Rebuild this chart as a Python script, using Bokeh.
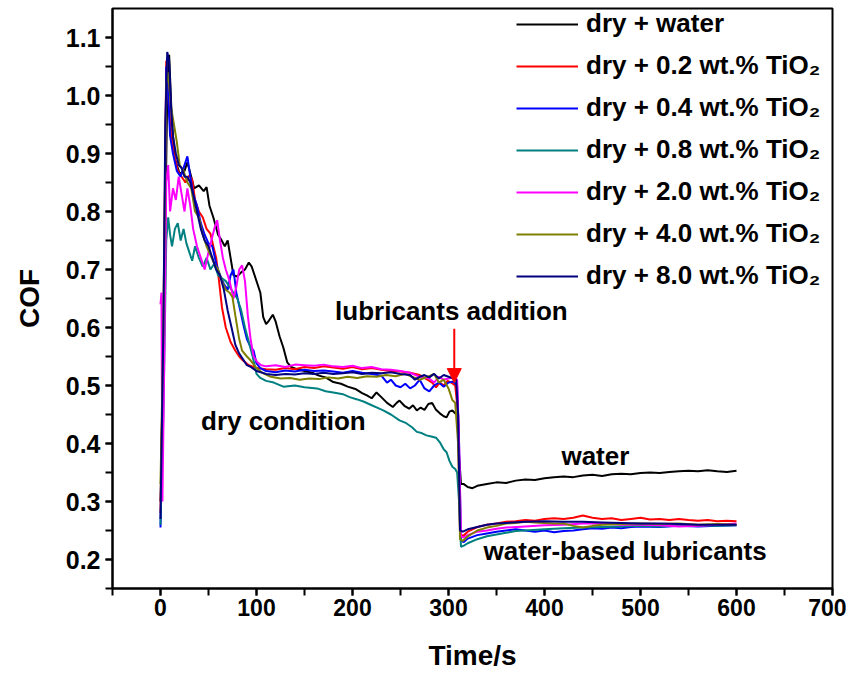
from bokeh.plotting import figure
from bokeh.models import (Legend, LegendItem, Label, Arrow, NormalHead,
                          SingleIntervalTicker, Range1d, NumeralTickFormatter)
from bokeh.embed import file_html
from bokeh.resources import INLINE

# ---------------- data ----------------
t_water = [0, 3, 7, 9, 12, 15, 20, 25, 28, 32, 35, 40, 45, 48, 51, 55, 60, 63, 67, 70, 73, 76, 80, 84, 88,
           92, 95, 98, 101, 104, 107, 110, 113, 117, 120, 124, 128, 132, 136, 142, 150, 158, 165, 172, 180,
           188, 195, 203, 210, 215, 220, 225, 230, 236, 242, 246, 249, 254, 259, 263, 267, 271, 275, 279,
           283, 287, 291, 295, 298, 301, 304, 307, 309, 311, 313, 316, 320, 325, 330, 340, 350, 360, 370,
           380, 390, 400, 410, 420, 430, 440, 450, 460, 470, 480, 490, 500, 510, 520, 530, 540, 550, 560,
           570, 580, 590, 600]
cof_water = [0.30, 0.55, 1.00, 1.07, 0.95, 0.89, 0.865, 0.87, 0.885, 0.86, 0.84, 0.845, 0.835, 0.842, 0.81,
             0.79, 0.76, 0.752, 0.74, 0.75, 0.72, 0.69, 0.688, 0.695, 0.70, 0.712, 0.705, 0.69, 0.675, 0.66,
             0.618, 0.606, 0.612, 0.622, 0.61, 0.585, 0.565, 0.54, 0.532, 0.528, 0.525, 0.522, 0.517, 0.514,
             0.506, 0.503, 0.498, 0.494, 0.487, 0.483, 0.478, 0.488, 0.48, 0.47, 0.463, 0.47, 0.474, 0.465,
             0.46, 0.466, 0.457, 0.462, 0.458, 0.468, 0.47, 0.458, 0.452, 0.447, 0.445, 0.455, 0.457, 0.452,
             0.45, 0.38, 0.33, 0.33, 0.325, 0.323, 0.327, 0.33, 0.333, 0.332, 0.336, 0.338, 0.337, 0.34,
             0.342, 0.343, 0.342, 0.345, 0.346, 0.344, 0.347, 0.348, 0.347, 0.349, 0.35, 0.349, 0.351,
             0.352, 0.353, 0.352, 0.354, 0.352, 0.351, 0.353]

t_02 = [0, 3, 6, 8, 11, 14, 18, 22, 26, 30, 33, 36, 40, 44, 48, 52, 55, 58, 61, 64, 68, 73, 78, 82, 86, 92,
        100, 110, 120, 130, 140, 150, 160, 170, 180, 190, 200, 210, 220, 230, 240, 250, 260, 270, 278, 283,
        287, 291, 295, 299, 303, 307, 310, 312, 315, 320, 330, 340, 350, 360, 370, 380, 390, 400, 410, 420,
        430, 440, 450, 460, 470, 480, 490, 500, 510, 520, 530, 540, 550, 560, 570, 580, 590, 600]
cof_02 = [0.28, 0.6, 1.06, 1.0, 0.93, 0.9, 0.87, 0.86, 0.85, 0.862, 0.855, 0.82, 0.80, 0.79, 0.77, 0.762, 0.74,
          0.72, 0.68, 0.635, 0.60, 0.575, 0.56, 0.55, 0.543, 0.535, 0.53, 0.528, 0.527, 0.53, 0.528, 0.532,
          0.53, 0.533, 0.531, 0.529, 0.532, 0.528, 0.53, 0.527, 0.525, 0.524, 0.522, 0.518, 0.51, 0.505,
          0.497, 0.505, 0.5, 0.508, 0.505, 0.5, 0.45, 0.245, 0.24, 0.248, 0.256, 0.26, 0.262, 0.265, 0.266,
          0.268, 0.267, 0.27, 0.271, 0.27, 0.272, 0.276, 0.272, 0.27, 0.271, 0.268, 0.27, 0.272, 0.269, 0.27,
          0.268, 0.27, 0.268, 0.267, 0.268, 0.266, 0.267, 0.266]

t_04 = [0, 3, 6, 8, 10, 13, 17, 21, 25, 28, 31, 34, 38, 42, 46, 50, 54, 58, 62, 66, 70, 73, 76, 79, 83, 87,
        90, 94, 97, 100, 104, 110, 120, 130, 140, 150, 160, 170, 180, 190, 200, 210, 220, 230, 236, 240, 245,
        250, 255, 260, 265, 270, 275, 280, 285, 290, 295, 300, 305, 309, 311, 313, 316, 320, 330, 340, 350,
        360, 370, 380, 390, 400, 410, 420, 430, 440, 450, 460, 470, 480, 490, 500, 520, 540, 560, 580, 600]
cof_04 = [0.255, 0.5, 1.05, 1.0, 0.93, 0.90, 0.87, 0.86, 0.88, 0.895, 0.86, 0.83, 0.81, 0.78, 0.76, 0.745,
          0.74, 0.71, 0.69, 0.675, 0.665, 0.69, 0.70, 0.66, 0.63, 0.60, 0.58, 0.566, 0.56, 0.538, 0.53,
          0.525, 0.523, 0.526, 0.524, 0.527, 0.525, 0.526, 0.524, 0.522, 0.525, 0.522, 0.52, 0.517, 0.505,
          0.51, 0.5, 0.497, 0.503, 0.495, 0.5, 0.51, 0.495, 0.49, 0.5, 0.505, 0.498, 0.505, 0.507, 0.5, 0.4,
          0.232, 0.23, 0.236, 0.242, 0.245, 0.248, 0.25, 0.252, 0.25, 0.248, 0.25, 0.247, 0.249, 0.25, 0.252,
          0.254, 0.253, 0.255, 0.254, 0.256, 0.257, 0.256, 0.258, 0.257, 0.258, 0.259]

t_08 = [0, 3, 6, 8, 10, 12, 15, 18, 21, 24, 27, 30, 33, 36, 40, 44, 48, 52, 56, 60, 64, 68, 72, 76, 80, 84,
        88, 92, 96, 100, 104, 110, 118, 128, 140, 150, 163, 172, 180, 190, 197, 205, 212, 220, 228, 232, 240,
        249, 256, 262, 267, 272, 277, 282, 287, 291, 295, 298, 301, 304, 307, 309, 311, 313, 316, 320, 330,
        340, 350, 360, 370, 380, 400, 420, 440, 460, 480, 500, 520, 540, 560, 580, 600]
cof_08 = [0.26, 0.45, 0.75, 0.79, 0.76, 0.74, 0.77, 0.78, 0.75, 0.77, 0.745, 0.73, 0.715, 0.74, 0.72, 0.705,
          0.72, 0.70, 0.71, 0.69, 0.685, 0.68, 0.67, 0.66, 0.65, 0.63, 0.60, 0.575, 0.55, 0.52, 0.513, 0.508,
          0.505, 0.498, 0.5, 0.497, 0.495, 0.49, 0.488, 0.485, 0.48, 0.476, 0.472, 0.466, 0.46, 0.457, 0.45,
          0.44, 0.435, 0.428, 0.42, 0.418, 0.414, 0.412, 0.41, 0.402, 0.39, 0.385, 0.37, 0.36, 0.356, 0.35,
          0.3, 0.222, 0.224, 0.228, 0.235, 0.24, 0.243, 0.246, 0.249, 0.25, 0.252, 0.254, 0.255, 0.256,
          0.257, 0.258, 0.257, 0.258, 0.259, 0.258, 0.259]

t_20 = [0, 1, 2, 4, 6, 8, 10, 13, 16, 19, 22, 25, 28, 31, 34, 38, 42, 46, 50, 53, 56, 59, 62, 65, 68, 72, 76,
        79, 82, 85, 88, 91, 94, 97, 101, 105, 110, 120, 130, 140, 150, 160, 170, 180, 190, 200, 210, 220, 230,
        240, 250, 260, 270, 280, 285, 290, 295, 300, 305, 309, 311, 313, 316, 320, 330, 340, 350, 360, 380,
        400, 420, 440, 460, 480, 500, 520, 540, 560, 580, 600]
cof_20 = [0.64, 0.66, 0.30, 0.55, 0.85, 0.88, 0.80, 0.84, 0.82, 0.86, 0.83, 0.80, 0.84, 0.81, 0.77, 0.74, 0.72,
          0.70, 0.73, 0.75, 0.77, 0.785, 0.75, 0.72, 0.70, 0.68, 0.65, 0.67, 0.70, 0.707, 0.68, 0.62, 0.578,
          0.55, 0.54, 0.535, 0.533, 0.535, 0.532, 0.536, 0.535, 0.534, 0.536, 0.533, 0.532, 0.534, 0.53,
          0.532, 0.528, 0.527, 0.525, 0.522, 0.515, 0.512, 0.505, 0.515, 0.51, 0.512, 0.515, 0.51, 0.4, 0.24,
          0.238, 0.242, 0.248, 0.25, 0.253, 0.255, 0.257, 0.259, 0.26, 0.262, 0.262, 0.26, 0.26, 0.259,
          0.257, 0.258, 0.26, 0.262]

t_40 = [0, 3, 6, 8, 11, 14, 17, 20, 24, 28, 32, 36, 40, 44, 48, 52, 56, 60, 64, 68, 72, 75, 78, 82, 85, 90,
        94, 100, 106, 115, 125, 135, 145, 155, 165, 175, 185, 195, 205, 215, 225, 235, 245, 255, 262, 270,
        278, 285, 290, 295, 300, 304, 307, 310, 312, 315, 320, 330, 340, 350, 360, 370, 380, 390, 400, 410,
        420, 430, 440, 450, 460, 480, 500, 520, 540, 560, 580, 600]
cof_40 = [0.33, 0.6, 1.02, 1.04, 0.98, 0.95, 0.92, 0.88, 0.87, 0.85, 0.84, 0.80, 0.79, 0.76, 0.74, 0.725, 0.71,
          0.70, 0.68, 0.665, 0.66, 0.652, 0.62, 0.58, 0.56, 0.55, 0.543, 0.53, 0.522, 0.515, 0.512, 0.513,
          0.51, 0.512, 0.511, 0.514, 0.512, 0.515, 0.513, 0.516, 0.515, 0.518, 0.516, 0.52, 0.515, 0.51,
          0.515, 0.52, 0.505, 0.51, 0.495, 0.475, 0.47, 0.4, 0.235, 0.232, 0.24, 0.25, 0.255, 0.258, 0.262,
          0.263, 0.265, 0.264, 0.263, 0.262, 0.262, 0.258, 0.255, 0.258, 0.26, 0.261, 0.262, 0.261, 0.262,
          0.26, 0.261, 0.26]

t_80 = [0, 3, 5, 7, 9, 11, 13, 16, 19, 22, 25, 28, 31, 34, 38, 42, 46, 50, 54, 58, 62, 66, 70, 74, 78, 82,
        86, 90, 94, 100, 110, 120, 130, 140, 150, 160, 170, 180, 190, 200, 210, 220, 230, 240, 250, 260, 265,
        270, 275, 280, 285, 290, 295, 300, 305, 308, 310, 312, 315, 320, 330, 340, 350, 360, 380, 400, 420,
        440, 460, 480, 500, 520, 540, 560, 580, 600]
cof_80 = [0.27, 0.6, 0.95, 1.075, 1.06, 0.98, 0.93, 0.90, 0.88, 0.875, 0.86, 0.86, 0.85, 0.83, 0.80, 0.77,
          0.75, 0.74, 0.72, 0.70, 0.69, 0.665, 0.629, 0.60, 0.57, 0.555, 0.545, 0.535, 0.532, 0.525, 0.52,
          0.518, 0.52, 0.519, 0.521, 0.52, 0.522, 0.52, 0.521, 0.523, 0.52, 0.522, 0.521, 0.523, 0.52, 0.518,
          0.51, 0.515, 0.518, 0.514, 0.52, 0.512, 0.518, 0.515, 0.512, 0.51, 0.45, 0.25, 0.248, 0.252, 0.256,
          0.26, 0.262, 0.263, 0.265, 0.266, 0.265, 0.265, 0.264, 0.263, 0.262, 0.262, 0.261, 0.26, 0.26, 0.26]

series_labels = ["dry + water", "dry + 0.2 wt.% TiO\u2082", "dry + 0.4 wt.% TiO\u2082",
                 "dry + 0.8 wt.% TiO\u2082", "dry + 2.0 wt.% TiO\u2082", "dry + 4.0 wt.% TiO\u2082",
                 "dry + 8.0 wt.% TiO\u2082"]
series_colors = ["#000000", "#FF0000", "#0000FF", "#008080", "#FF00FF", "#808000", "#000080"]
series_t = [t_water, t_02, t_04, t_08, t_20, t_40, t_80]
series_y = [cof_water, cof_02, cof_04, cof_08, cof_20, cof_40, cof_80]

FONT = "Liberation Sans"

p = figure(frame_width=720, frame_height=580, min_border_left=112, min_border_right=14,
           min_border_top=8, min_border_bottom=78,
           x_range=Range1d(-50, 700), y_range=Range1d(0.15, 1.15),
           output_backend="svg", toolbar_location=None)
p.xgrid.visible = False
p.ygrid.visible = False
p.outline_line_color = "black"
p.outline_line_width = 2

p.xaxis.ticker = SingleIntervalTicker(interval=100, num_minor_ticks=2)
p.yaxis.ticker = SingleIntervalTicker(interval=0.1, num_minor_ticks=2)
p.yaxis.formatter = NumeralTickFormatter(format="0.0")
for ax in (p.xaxis[0], p.yaxis[0]):
    ax.axis_line_width = 2
    ax.axis_line_color = "black"
    ax.major_tick_line_width = 2
    ax.minor_tick_line_width = 2
    ax.major_tick_line_color = "black"
    ax.minor_tick_line_color = "black"
    ax.major_tick_in = 0
    ax.major_tick_out = 7
    ax.minor_tick_in = 0
    ax.minor_tick_out = 7
    ax.major_label_text_font = FONT
    ax.major_label_text_font_style = "bold"
    ax.major_label_text_color = "black"
    ax.axis_label_text_font = FONT
    ax.axis_label_text_font_style = "bold"
    ax.axis_label_text_color = "black"
    ax.axis_label_text_font_size = "28px"
p.yaxis.major_label_text_font_size = "25px"
p.yaxis.major_label_standoff = 5
p.xaxis.major_label_text_font_size = "23px"
p.xaxis.major_label_standoff = 3
p.xaxis.axis_label = "Time/s"
p.yaxis.axis_label = "COF"
p.xaxis.axis_label_standoff = 21
p.yaxis.axis_label_standoff = 18

renderers = []
for tt, yy, c in zip(series_t, series_y, series_colors):
    r = p.line(tt, yy, line_color=c, line_width=2)
    renderers.append(r)

legend = Legend(items=[LegendItem(label=lab, renderers=[r]) for lab, r in zip(series_labels, renderers)],
                location=(404, 297), border_line_color=None, background_fill_alpha=0,
                label_text_font=FONT, label_text_font_style="bold", label_text_font_size="26px",
                label_text_color="black",
                glyph_width=62, glyph_height=30, label_height=30, spacing=11, padding=0,
                label_standoff=8, margin=0)
p.add_layout(legend)

def add_label(x, y, text):
    p.add_layout(Label(x=x, y=y, text=text, text_align="center", text_baseline="middle",
                       text_font=FONT, text_font_style="bold", text_font_size="26px",
                       text_color="black"))

add_label(303, 0.628, "lubricants addition")
add_label(128, 0.438, "dry condition")
add_label(453, 0.378, "water")
add_label(484, 0.215, "water-based lubricants")

p.add_layout(Arrow(end=NormalHead(size=14, fill_color="red", line_color="red"),
                   x_start=306, y_start=0.598, x_end=306, y_end=0.505,
                   line_color="red", line_width=2))

open("out.html", "w").write(file_html(p, INLINE))
